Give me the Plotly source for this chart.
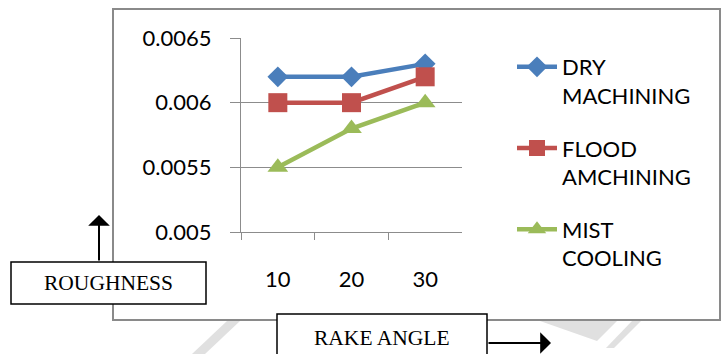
import plotly.graph_objects as go

# Rake angle categories and surface roughness per cooling method
rake_angle = ["10", "20", "30"]
dry_machining = [0.0062, 0.0062, 0.0063]
flood_machining = [0.0060, 0.0060, 0.0062]
mist_cooling = [0.0055, 0.0058, 0.0060]
y_ticks = [0.005, 0.0055, 0.006, 0.0065]

W, H = 726, 354


def px(x):
    return x / W


def py(y):
    return 1 - y / H


fig = go.Figure()
series = [
    ("DRY<br>MACHINING", dry_machining, "#4A7EBB", "diamond", 16),
    ("FLOOD<br>AMCHINING", flood_machining, "#C0504D", "square", 19),
    ("MIST<br>COOLING", mist_cooling, "#9BBB59", "triangle-up", 18),
]
for i, (name, vals, color, sym, size) in enumerate(series):
    fig.add_trace(go.Scatter(
        x=rake_angle, y=vals, name=name, mode="lines+markers",
        legendgroup=f"g{i}",
        line=dict(color=color, width=4.5),
        marker=dict(symbol=sym, size=size, color=color),
    ))

grid = "#8c8c8c"
fig.update_xaxes(
    type="category", domain=[px(241), px(462)], range=[-0.5, 2.5],
    tickson="boundaries", ticks="outside", ticklen=7, tickcolor=grid,
    showgrid=False, showline=True, linecolor=grid, linewidth=1.3,
    tickfont=dict(family="Lato", size=22, color="black"),
    ticklabelstandoff=27, automargin=False,
)
fig.update_yaxes(
    range=[0.005, 0.0065], domain=[py(232), py(38)],
    tickvals=y_ticks, ticktext=[f"{v:g}" for v in y_ticks],
    ticks="outside", ticklen=10, tickcolor=grid,
    showgrid=True, gridcolor=grid, gridwidth=1.3,
    showline=True, linecolor=grid, linewidth=1.3, zeroline=False,
    tickfont=dict(family="Lato", size=22, color="black"),
    ticklabelstandoff=14, automargin=False,
)

shapes = [
    # faint background marks below the chart frame
    dict(type="path", xref="paper", yref="paper", layer="below",
         path=f"M {px(192)},{py(354)} L {px(227)},{py(321)} L {px(240)},{py(321)} L {px(205)},{py(354)} Z",
         fillcolor="#e0e0e0", line=dict(width=0)),
    dict(type="path", xref="paper", yref="paper", layer="below",
         path=f"M {px(540)},{py(321)} L {px(617)},{py(321)} L {px(597)},{py(341)} Z",
         fillcolor="#e0e0e0", line=dict(width=0)),
    dict(type="path", xref="paper", yref="paper", layer="below",
         path=f"M {px(632)},{py(321)} L {px(641)},{py(321)} L {px(614)},{py(348)} L {px(606)},{py(348)} Z",
         fillcolor="#e0e0e0", line=dict(width=0)),
    # chart frame
    dict(type="rect", xref="paper", yref="paper", layer="below",
         x0=px(113), x1=px(720), y0=py(320), y1=py(9),
         line=dict(color="#8a8a8a", width=2), fillcolor="white"),
    # axis caption boxes
    dict(type="rect", xref="paper", yref="paper",
         x0=px(11), x1=px(206), y0=py(304), y1=py(262),
         line=dict(color="black", width=1.5), fillcolor="white"),
    dict(type="rect", xref="paper", yref="paper",
         x0=px(277), x1=px(487), y0=py(362), y1=py(314),
         line=dict(color="black", width=1.5), fillcolor="white"),
]

caption_font = dict(family="Liberation Serif", size=21.5, color="black")
annotations = [
    dict(text="ROUGHNESS", x=px(108.5), y=py(283), xref="paper", yref="paper",
         xanchor="center", yanchor="middle", showarrow=False, font=caption_font),
    dict(text="RAKE ANGLE", x=px(382), y=py(338), xref="paper", yref="paper",
         xanchor="center", yanchor="middle", showarrow=False, font=caption_font),
    dict(text="", x=px(99), y=py(215), ax=0, ay=47,
         xref="paper", yref="paper",
         showarrow=True, arrowhead=1, arrowsize=1.8, arrowwidth=2, arrowcolor="black"),
    dict(text="", x=px(551), y=py(343), ax=-64, ay=0,
         xref="paper", yref="paper",
         showarrow=True, arrowhead=1, arrowsize=1.8, arrowwidth=2, arrowcolor="black"),
]

fig.update_layout(
    width=W, height=H, margin=dict(l=0, r=0, t=0, b=0, autoexpand=False),
    paper_bgcolor="white", plot_bgcolor="white",
    shapes=shapes, annotations=annotations,
    legend=dict(x=px(512), y=py(46), xanchor="left", yanchor="top",
                font=dict(family="Lato", size=22, color="black"),
                valign="top", tracegroupgap=21, bgcolor="rgba(0,0,0,0)",
                itemwidth=40),
    showlegend=True,
)

fig.write_html("out.html")
